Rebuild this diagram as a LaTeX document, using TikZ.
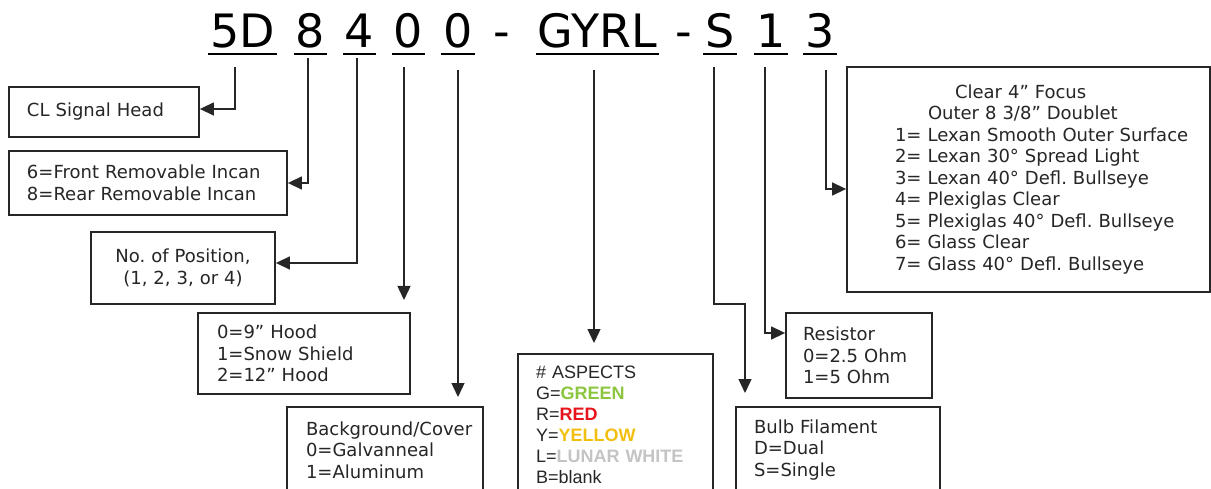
\documentclass[tikz,border=0pt]{standalone}
\usepackage{fontspec}
\setmainfont{DejaVu Sans}
\newfontfamily\arialf{Liberation Sans}
\usetikzlibrary{arrows.meta,calc}
\definecolor{ink}{HTML}{262626}
\definecolor{cgreen}{HTML}{8CC63E}
\definecolor{cred}{HTML}{E8141B}
\definecolor{cyellow}{HTML}{F2BF0F}
\definecolor{cgray}{HTML}{C4C4C4}
\frenchspacing
\begin{document}
\begin{tikzpicture}[x=1pt,y=-1pt,
  box/.style={draw=ink, line width=1.8pt, rectangle, inner ysep=0pt, align=left,
    font=\fontsize{18}{21.5}\selectfont, text=ink},
  conn/.style={draw=ink, line width=1.4pt, -{Triangle[length=14pt,width=13pt]}},
  ttl/.style={anchor=base, inner sep=0pt, font=\fontsize{46}{50}\selectfont, text=black},
  uline/.style={draw=black, line width=2pt}]
\path[use as bounding box, clip] (0,0) rectangle (1211,489);
\fill[white] (0,0) rectangle (1211,489);

% title
\node[ttl] (t5D) at (242.5,48) {5D};
\node[ttl] (t8) at (310.5,48) {8};
\node[ttl] (t4) at (359.5,48) {4};
\node[ttl] (t0a) at (408.5,48) {0};
\node[ttl] (t0b) at (458,48) {0};
\node[ttl] (d1) at (502,48) {-};
\node[ttl] (tG) at (597.5,48) {GYRL};
\node[ttl] (d2) at (683.5,48) {-};
\node[ttl] (tS) at (720,48) {S};
\node[ttl] (t1) at (771,48) {1};
\node[ttl] (t3) at (820,48) {3};
\foreach \n in {t5D,t8,t4,t0a,t0b,tG,tS,t1,t3}
  \draw[uline] ([shift={(-2pt,-6pt)}]\n.base west) -- ([shift={(2pt,-6pt)}]\n.base east);

% boxes
\node[box, text width=154pt, inner xsep=18pt, minimum height=50pt] (CL) at (104,112) {CL Signal Head};
\node[box, text width=242pt, inner xsep=18pt, minimum height=64pt] (FR) at (148,183)
  {6=Front Removable Incan\\8=Rear Removable Incan};
\node[box, text width=174pt, inner xsep=5pt, minimum height=72pt, align=center] (NP) at (183,268)
  {No. of Position,\\(1, 2, 3, or 4)};
\node[box, text width=174pt, inner xsep=19pt, minimum height=81pt] (Hood) at (304,353.5)
  {0=9” Hood\\1=Snow Shield\\2=12” Hood};
\node[box, text width=158pt, inner xsep=19pt, minimum height=86pt] (BG) at (385,450)
  {Background/Cover\\0=Galvanneal\\1=Aluminum};
\node[box, text width=159pt, inner xsep=18pt, minimum height=141pt,
      font=\arialf\fontsize{18}{21}\selectfont] (ASP) at (615.5,424.5)
  {\# ASPECTS\\G={\bfseries\color{cgreen}GREEN}\\R={\bfseries\color{cred}RED}\\
   Y={\bfseries\color{cyellow}YELLOW}\\L={\bfseries\color{cgray}LUNAR WHITE}\\B=blank};
\node[box, text width=168pt, inner xsep=18pt, minimum height=86pt] (Bulb) at (838,450)
  {Bulb Filament\\D=Dual\\S=Single};
\node[box, text width=112pt, inner xsep=17pt, minimum height=85pt] (Res) at (859,355.5)
  {Resistor\\0=2.5 Ohm\\1=5 Ohm};
\node[box, text width=329pt, inner xsep=17pt, minimum height=225pt] (Big) at (1028.5,179.5)
  {\hspace*{91pt}Clear 4” Focus\\
   \hspace*{64pt}Outer 8 3/8” Doublet\\
   \hspace*{31pt}1= Lexan Smooth Outer Surface\\
   \hspace*{31pt}2= Lexan 30° Spread Light\\
   \hspace*{31pt}3= Lexan 40° Defl. Bullseye\\
   \hspace*{31pt}4= Plexiglas Clear\\
   \hspace*{31pt}5= Plexiglas 40° Defl. Bullseye\\
   \hspace*{31pt}6= Glass Clear\\
   \hspace*{31pt}7= Glass 40° Defl. Bullseye};

% connector anchors
\coordinate (a5D) at (235,67);
\coordinate (a8) at (308,58);
\coordinate (a4) at (357,58);
\coordinate (a0a) at (404,67);
\coordinate (h0a) at (404,300);
\coordinate (a0b) at (458,70);
\coordinate (h0b) at (458,397);
\coordinate (aG) at (594,70);
\coordinate (hG) at (594,343);
\coordinate (aS) at (714,67);
\coordinate (hS) at (745,393);
\coordinate (a1) at (765,67);
\coordinate (a3) at (826,70);

% connectors
\draw[conn] (a5D) |- ([yshift=3pt]CL.east);
\draw[conn] (a8) |- (FR.east);
\draw[conn] (a4) |- ([yshift=5pt]NP.east);
\draw[conn] (a0a) -- (h0a);
\draw[conn] (a0b) -- (h0b);
\draw[conn] (aG) -- (hG);
\draw[conn] (aS) -- ++(0,237) -| (hS);
\draw[conn] (a1) |- ([yshift=22.5pt]Res.west);
\draw[conn] (a3) |- ([yshift=-9.5pt]Big.west);
\end{tikzpicture}
\end{document}
